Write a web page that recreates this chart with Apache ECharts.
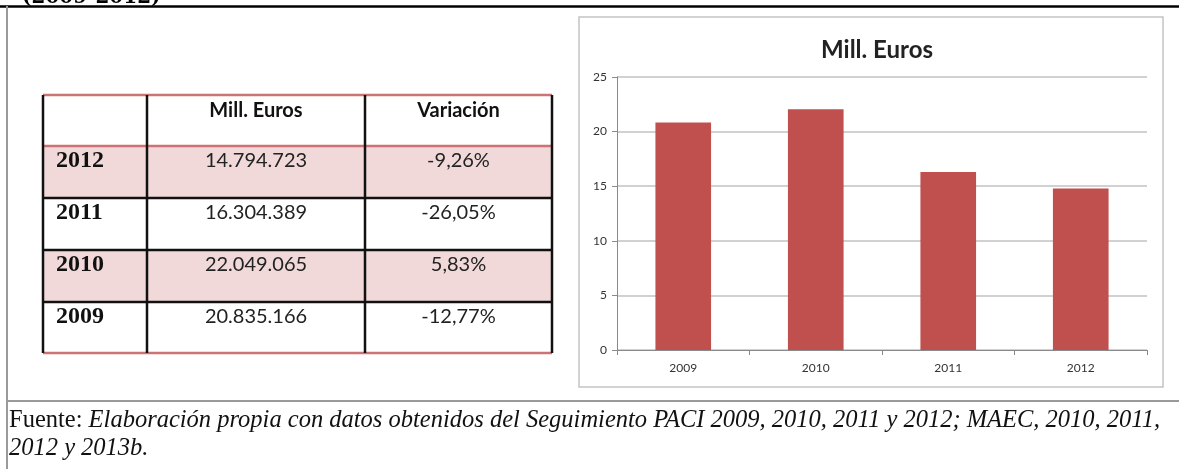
<!DOCTYPE html>
<html>
<head>
<meta charset="utf-8">
<script src="https://cdn.jsdelivr.net/npm/echarts@6/dist/echarts.min.js"></script>
<style>
html,body{margin:0;padding:0;background:#fff;}
#c{width:1179px;height:469px;}
</style>
</head>
<body>
<div id="c"></div>
<script>
// ---- data ----
var years = ['2009', '2010', '2011', '2012'];
var millEuros = [20.835, 22.049, 16.304, 14.795];
var tableYears = ['2012', '2011', '2010', '2009'];
var tableValues = ['14.794.723', '16.304.389', '22.049.065', '20.835.166'];
var tableVariation = ['-9,26%', '-26,05%', '5,83%', '-12,77%'];
var tableHeaders = ['', 'Mill. Euros', 'Variación'];
var yTicks = [0, 5, 10, 15, 20, 25];
var chartTitle = 'Mill. Euros';
var topTitle = '(2009-2012)';
var sourceLabel = 'Fuente:';
var sourceLine1 = ' Elaboración propia con datos obtenidos del Seguimiento PACI 2009, 2010, 2011 y 2012; MAEC, 2010, 2011,';
var sourceLine2 = '2012 y 2013b.';

var chart = echarts.init(document.getElementById('c'), null, {renderer: 'canvas'});

// table layout
var colX = [43, 147, 365, 552];
var rowY = [95, 146, 198, 250, 302, 353];
var pink = '#f1d9d9';
var redLine = '#cd7275';
var g = [];

// page frame
g.push({type: 'text', x: 22, y: 8, style: {text: topTitle, font: 'bold 20px "DejaVu Serif"', fill: '#000', textVerticalAlign: 'bottom'}});
g.push({type: 'line', shape: {x1: 0, y1: 6.5, x2: 1179, y2: 6.5}, style: {stroke: '#000', lineWidth: 2.5}, z: 5});
g.push({type: 'rect', shape: {x: 0, y: 7.7, width: 1179, height: 8}, style: {fill: '#fff'}, z: 4});
g.push({type: 'line', shape: {x1: 7, y1: 6, x2: 7, y2: 469}, style: {stroke: '#9a9a9a', lineWidth: 2}, z: 5});
g.push({type: 'line', shape: {x1: 7, y1: 401, x2: 1179, y2: 401}, style: {stroke: '#9a9a9a', lineWidth: 2}});

// chart box
g.push({type: 'rect', shape: {x: 579, y: 17, width: 584, height: 370}, style: {fill: 'none', stroke: '#c4c4c4', lineWidth: 1.5}, z: -1});

// table fills
for (var r = 0; r < tableYears.length; r++) {
  if (r % 2 === 0) {
    g.push({type: 'rect', shape: {x: colX[0], y: rowY[r + 1], width: colX[3] - colX[0], height: rowY[r + 2] - rowY[r + 1]}, style: {fill: pink}});
  }
}
// horizontal lines
for (var i = 0; i < rowY.length; i++) {
  var isRed = (i === 0 || i === 1 || i === rowY.length - 1);
  g.push({type: 'line', shape: {x1: colX[0], y1: rowY[i], x2: colX[3], y2: rowY[i]}, style: {stroke: isRed ? redLine : '#111', lineWidth: 2.5}, z: 2});
}
// vertical lines
for (var j = 0; j < colX.length; j++) {
  g.push({type: 'line', shape: {x1: colX[j], y1: rowY[0], x2: colX[j], y2: rowY[rowY.length - 1]}, style: {stroke: '#111', lineWidth: 2.5}, z: 3});
}
// header text
for (var h = 1; h < tableHeaders.length; h++) {
  g.push({type: 'text', x: (colX[h] + colX[h + 1]) / 2, y: 111, style: {text: tableHeaders[h], font: 'bold 20px Lato', fill: '#111', textAlign: 'center', textVerticalAlign: 'middle'}, z: 4});
}
// body text
for (var k = 0; k < tableYears.length; k++) {
  var cy = rowY[k + 1] + 15;
  g.push({type: 'text', x: 56, y: cy, style: {text: tableYears[k], font: 'bold 24px "Liberation Serif"', fill: '#111', textAlign: 'left', textVerticalAlign: 'middle'}, z: 4});
  g.push({type: 'text', x: (colX[1] + colX[2]) / 2, y: cy, style: {text: tableValues[k], font: '20px Lato', fill: '#222', textAlign: 'center', textVerticalAlign: 'middle'}, z: 4});
  g.push({type: 'text', x: (colX[2] + colX[3]) / 2, y: cy, style: {text: tableVariation[k], font: '20px Lato', fill: '#222', textAlign: 'center', textVerticalAlign: 'middle'}, z: 4});
}

// footer
g.push({type: 'text', x: 9, y: 421, style: {
  text: '{a|' + sourceLabel + '}{b|' + sourceLine1 + '}',
  rich: {
    a: {fontFamily: 'Liberation Serif', fontSize: 24.5, fill: '#111'},
    b: {fontFamily: 'Liberation Serif', fontStyle: 'italic', fontSize: 24.5, fill: '#111'}
  }, textVerticalAlign: 'middle'}});
g.push({type: 'text', x: 9, y: 449, style: {text: sourceLine2, font: 'italic 24.5px "Liberation Serif"', fill: '#111', textVerticalAlign: 'middle'}});

var option = {
  animation: false,
  title: {text: chartTitle, left: 872, top: 33, textAlign: 'center', textStyle: {fontFamily: 'Lato', fontWeight: 'bold', fontSize: 24, color: '#222'}},
  grid: {left: 617, right: 32, top: 77, bottom: 119, containLabel: false},
  xAxis: {
    type: 'category', data: years,
    axisLine: {lineStyle: {color: '#8a8a8a', width: 1}},
    axisTick: {show: true, alignWithLabel: false, length: 5, lineStyle: {color: '#8a8a8a'}},
    axisLabel: {fontFamily: 'Lato', fontSize: 12, color: '#333', margin: 12}
  },
  yAxis: {
    type: 'value', min: 0, max: 25, interval: 5,
    axisLine: {show: true, lineStyle: {color: '#8a8a8a', width: 1}},
    axisTick: {show: true, length: 5, lineStyle: {color: '#8a8a8a'}},
    axisLabel: {fontFamily: 'Lato', fontSize: 12, color: '#333', margin: 10},
    splitLine: {lineStyle: {color: '#c2c2c2', width: 1.5}}
  },
  series: [{type: 'bar', data: millEuros, barWidth: '42%', itemStyle: {color: '#c0504d'}}],
  graphic: g
};
chart.setOption(option);
</script>
</body>
</html>
